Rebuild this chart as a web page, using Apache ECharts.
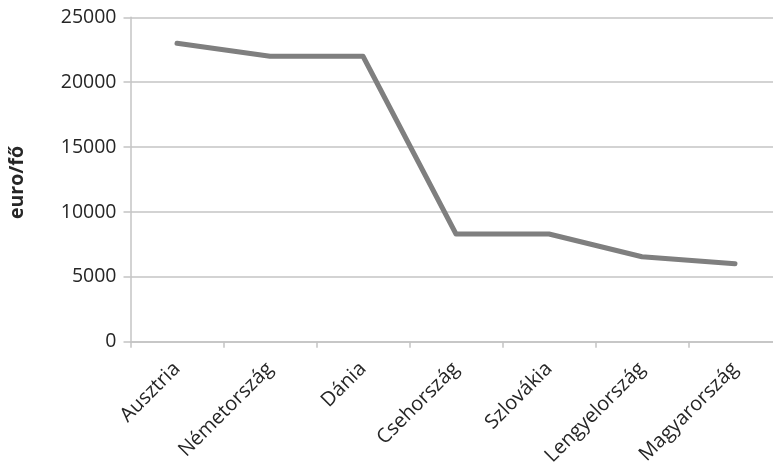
<!DOCTYPE html>
<html>
<head>
<meta charset="utf-8">
<script src="https://cdn.jsdelivr.net/npm/echarts@6/dist/echarts.min.js"></script>
<style>
  html, body { margin: 0; padding: 0; background: #ffffff; overflow: hidden; width: 773px; height: 463px; }
  /* the plot area runs slightly past the right window edge */
  #chart { width: 790px; height: 463px; }
</style>
</head>
<body>
<div id="chart"></div>
<script>
// GDP per capita by country (euro per person)
const countries = ['Ausztria', 'Németország', 'Dánia', 'Csehország', 'Szlovákia', 'Lengyelország', 'Magyarország'];
const perCapita = [23000, 22000, 22000, 8300, 8300, 6550, 6000];
const yTicks = { min: 0, max: 25000, step: 5000 };
const yTitle = 'euro/fő';

const font = '"Open Sans", "Liberation Sans", sans-serif';
const gridColor = '#c4c4c4';
const textColor = '#262626';

const chart = echarts.init(document.getElementById('chart'));
chart.setOption({
  animation: false,
  grid: {
    left: 130.5, right: 8.5, top: 17.3, bottom: 121.3,
    containLabel: false,
    outerBoundsMode: 'none'
  },
  xAxis: {
    type: 'category',
    data: countries,
    boundaryGap: true,
    axisLine: { show: true, lineStyle: { color: gridColor, width: 1.5 } },
    axisTick: { show: true, interval: 0, length: 6, lineStyle: { color: gridColor, width: 1.5 } },
    axisLabel: {
      interval: 0,
      rotate: 45,
      margin: 24,
      fontFamily: font,
      fontSize: 20,
      color: textColor
    },
    splitLine: { show: false }
  },
  yAxis: {
    type: 'value',
    min: yTicks.min,
    max: yTicks.max,
    interval: yTicks.step,
    name: yTitle,
    nameLocation: 'middle',
    nameRotate: 90,
    nameGap: 103,
    nameTextStyle: { fontFamily: font, fontSize: 19.5, fontWeight: 'bold', color: textColor, padding: [0, 6, 0, 0] },
    axisLine: { show: true, lineStyle: { color: gridColor, width: 1.5 } },
    axisTick: { show: true, length: 7, lineStyle: { color: gridColor, width: 1.5 } },
    axisLabel: {
      fontFamily: font, fontSize: 19.5, color: textColor, margin: 14,
      formatter: v => String(v)
    },
    splitLine: { show: true, lineStyle: { color: gridColor, width: 1.5 } }
  },
  series: [{
    type: 'line',
    data: perCapita,
    symbol: 'none',
    lineStyle: { color: '#7f7f7f', width: 5, join: 'round', cap: 'round' },
    z: 3
  }]
});
</script>
</body>
</html>
